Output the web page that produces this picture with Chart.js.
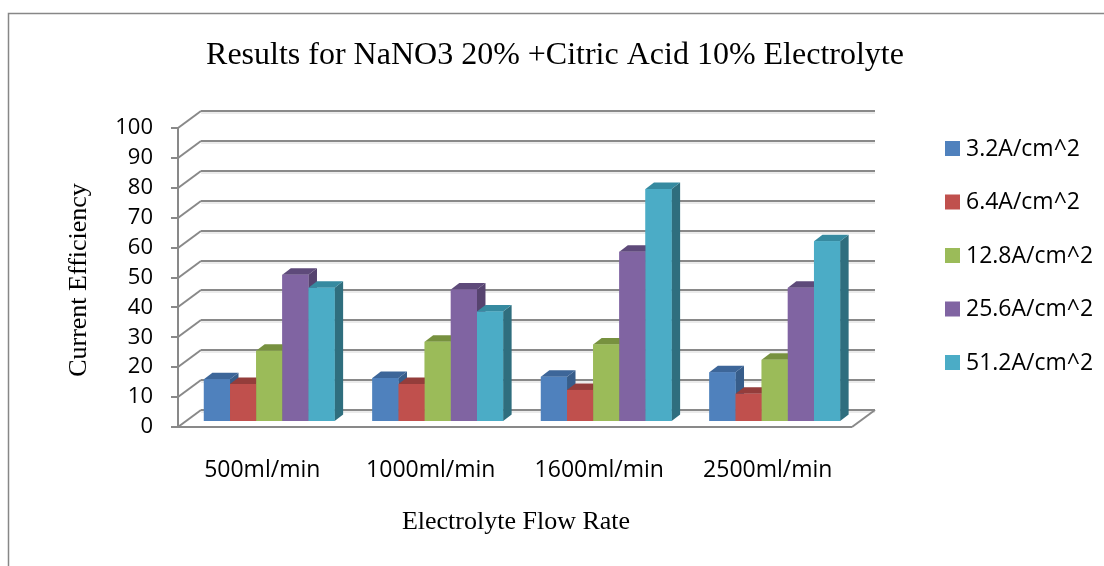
<!DOCTYPE html>
<html>
<head>
<meta charset="utf-8">
<script src="https://cdn.jsdelivr.net/npm/chart.js@4.4.1/dist/chart.umd.min.js"></script>
<style>
  html, body { margin: 0; padding: 0; background: #ffffff; }
  canvas { display: block; }
</style>
</head>
<body>
<canvas id="chart" width="1104" height="566"></canvas>
<script>
// Flow rates on the category axis
const flowRates = ['500ml/min', '1000ml/min', '1600ml/min', '2500ml/min'];

// Current density series names
const seriesNames = ['3.2A/cm^2', '6.4A/cm^2', '12.8A/cm^2', '25.6A/cm^2', '51.2A/cm^2'];

// Current efficiency per flow rate, one array per current density
const eff32  = [14.0, 14.4, 14.8, 16.3];
const eff64  = [12.4, 12.4, 10.4, 9.1];
const eff128 = [23.5, 26.5, 25.6, 20.5];
const eff256 = [48.9, 44.0, 56.6, 44.6];
const eff512 = [44.6, 36.6, 77.6, 60.1];

// Value axis range
const yMin = 0;
const yMax = 100;
const yStep = 10;

// Face colours of the 3-D columns
const faceFront = ['#4F81BD', '#C0504D', '#9BBB59', '#8064A2', '#4BACC6'];
const faceTop   = ['#3D6699', '#943D3B', '#77913F', '#5E4A7A', '#368AA0'];
const faceSide  = ['#375D8A', '#8A3937', '#6E8738', '#56436F', '#2F6E7E'];

// Oblique projection offsets (pixels)
const WALL_DX = 23, WALL_DY = -17;     // full depth of the floor / side wall
const BAR_DX = 7, BAR_DY = -6;         // where the columns stand inside the box
const COL_DX = 8.5, COL_DY = -6.5;     // thickness of each column

const TICK_FONT = { family: '"Open Sans", sans-serif', size: 22 };
const CAT_FONT = { family: '"Open Sans", sans-serif', size: 23 };
const SERIF = '"Liberation Serif", "Times New Roman", serif';
const GRID = '#898989';
const GRID_LIGHT = '#d8d8d8';

const allSeries = [eff32, eff64, eff128, eff256, eff512];

function line(ctx, x1, y1, x2, y2) {
  ctx.beginPath();
  ctx.moveTo(x1, y1);
  ctx.lineTo(x2, y2);
  ctx.stroke();
}

function poly(ctx, pts, fill) {
  ctx.beginPath();
  ctx.moveTo(pts[0][0], pts[0][1]);
  for (let i = 1; i < pts.length; i++) ctx.lineTo(pts[i][0], pts[i][1]);
  ctx.closePath();
  ctx.fillStyle = fill;
  ctx.fill();
}

// Box (walls, floor, gridlines), frame, titles and legend
const boxPlugin = {
  id: 'box3d',
  beforeDraw(chart) {
    const ctx = chart.ctx;
    const { left, right, top, bottom } = chart.chartArea;
    const ys = chart.scales.y;
    ctx.save();
    ctx.fillStyle = '#ffffff';
    ctx.fillRect(0, 0, chart.width, chart.height);

    // outer frame
    ctx.strokeStyle = '#878787';
    ctx.lineWidth = 1.5;
    ctx.strokeRect(8.5, 13.5, chart.width + 20, chart.height + 20);

    // gridlines on back and side walls
    ys.ticks.forEach(t => {
      const y = Math.round(ys.getPixelForValue(t.value));
      ctx.strokeStyle = GRID_LIGHT;
      ctx.lineWidth = 1;
      line(ctx, left + WALL_DX, y + WALL_DY + 2, right + WALL_DX, y + WALL_DY + 2);
      ctx.strokeStyle = GRID;
      ctx.lineWidth = 2;
      line(ctx, left + WALL_DX, y + WALL_DY, right + WALL_DX, y + WALL_DY);
      line(ctx, left, y, left + WALL_DX, y + WALL_DY);
      line(ctx, left - 7, y, left, y);
    });

    // front axis and floor outline
    ctx.strokeStyle = GRID;
    ctx.lineWidth = 2;
    line(ctx, left, top, left, bottom);
    line(ctx, left, bottom, right, bottom);
    line(ctx, right, bottom, right + WALL_DX, bottom + WALL_DY);
    ctx.restore();
  },
  beforeDatasetsDraw(chart) {
    chart.ctx.save();
    chart.ctx.translate(BAR_DX, BAR_DY);
  },
  afterDatasetsDraw(chart) {
    const ctx = chart.ctx;
    const metas = chart.data.datasets.map((d, i) => chart.getDatasetMeta(i));
    for (let j = 0; j < flowRates.length; j++) {
      metas.forEach((meta, k) => {
        const bar = meta.data[j];
        const p = bar.getProps(['x', 'y', 'base', 'width'], true);
        const l = p.x - p.width / 2, r = p.x + p.width / 2;
        poly(ctx, [[r, p.y], [r + COL_DX, p.y + COL_DY], [r + COL_DX, p.base + COL_DY], [r, p.base]], faceSide[k]);
        poly(ctx, [[l, p.y], [r, p.y], [r + COL_DX, p.y + COL_DY], [l + COL_DX, p.y + COL_DY]], faceTop[k]);
        bar.draw(ctx);
      });
    }
    ctx.restore();
  },
  afterDraw(chart) {
    const ctx = chart.ctx;
    ctx.save();
    ctx.fillStyle = '#000000';
    ctx.textAlign = 'center';
    ctx.textBaseline = 'middle';

    ctx.font = '32px ' + SERIF;
    ctx.fillText('Results for NaNO3 20% +Citric Acid 10% Electrolyte', 555, 56);

    ctx.font = '26px ' + SERIF;
    ctx.fillText('Electrolyte Flow Rate', 516, 522);
    ctx.save();
    ctx.translate(79, 280);
    ctx.rotate(-Math.PI / 2);
    ctx.fillText('Current Efficiency', 0, 0);
    ctx.restore();

    // legend
    ctx.textAlign = 'left';
    ctx.font = CAT_FONT.size + 'px ' + CAT_FONT.family;
    chart.data.datasets.forEach((ds, i) => {
      const cy = 148 + i * 53.5;
      ctx.fillStyle = ds.backgroundColor;
      ctx.fillRect(945, cy - 7, 15, 15);
      ctx.fillStyle = '#000000';
      ctx.fillText(ds.label, 966, cy + 1);
    });
    ctx.restore();
  }
};

const datasets = seriesNames.map((name, i) => ({
  label: name,
  data: allSeries[i],
  backgroundColor: faceFront[i],
  borderWidth: 0,
  categoryPercentage: 0.776,
  barPercentage: 1.0,
  clip: false
}));

new Chart(document.getElementById('chart'), {
  type: 'bar',
  data: { labels: flowRates, datasets },
  options: {
    responsive: false,
    animation: false,
    events: [],
    layout: { padding: { left: 0, right: 252, top: 128, bottom: 0 } },
    scales: {
      x: {
        grid: { display: false, drawTicks: false },
        border: { display: false },
        ticks: { font: CAT_FONT, color: '#000000', padding: 30, maxRotation: 0 },
        afterFit(scale) { scale.height = 139; }
      },
      y: {
        min: yMin,
        max: yMax,
        grid: { display: false, drawTicks: false },
        border: { display: false },
        ticks: { stepSize: yStep, font: TICK_FONT, color: '#000000', padding: 25 },
        afterFit(scale) { scale.width = 178; }
      }
    },
    plugins: {
      legend: { display: false },
      title: { display: false },
      tooltip: { enabled: false }
    }
  },
  plugins: [boxPlugin]
});
</script>
</body>
</html>
